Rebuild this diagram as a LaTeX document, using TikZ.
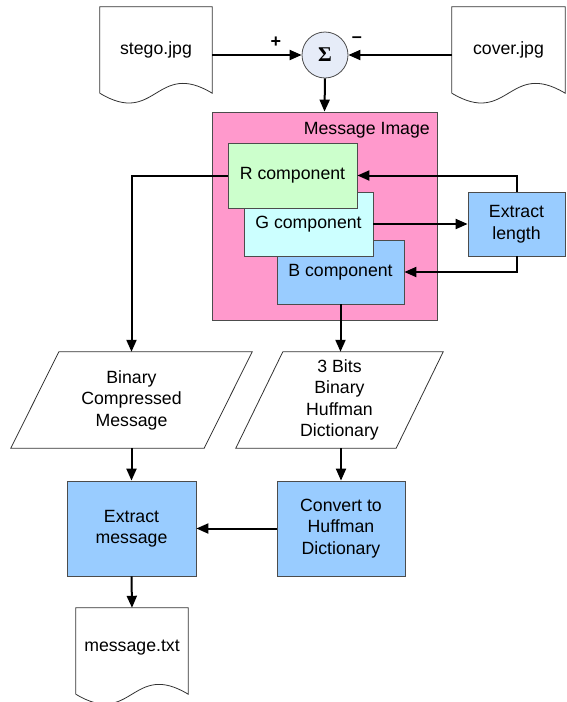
\documentclass[tikz,border=0pt]{standalone}
\usepackage{fontspec}
\setmainfont{Liberation Sans}
\newfontfamily\serifb{Liberation Serif}
\usetikzlibrary{arrows.meta,calc}
\definecolor{pinkbg}{HTML}{FF99CC}
\definecolor{rcol}{HTML}{CCFFCC}
\definecolor{gcol}{HTML}{CCFFFF}
\definecolor{bcol}{HTML}{99CCFF}
\definecolor{sigfill}{HTML}{E6ECF8}
\newcommand\docoutline[1]{\draw[docline] (#1.south west) -- (#1.north west) -- (#1.north east) -- (#1.south east) .. controls ($(#1.south)+(0,-34)$) and ($(#1.south)+(0,34)$) .. (#1.south west);}
\begin{document}
\begin{tikzpicture}[x=1pt,y=-1pt,
  font=\fontsize{17.7}{21.5}\selectfont,
  box/.style={draw=black!70, line width=0.8pt, inner sep=0pt, align=center},
  ghost/.style={inner sep=0pt, align=center},
  docline/.style={draw=black!80, line width=0.8pt, fill=white},
  pline/.style={draw=black!80, line width=0.8pt, fill=white},
  sign/.style={inner sep=0pt, font=\bfseries\fontsize{18}{18}\selectfont},
  arr/.style={line width=2pt, -{Triangle[length=12pt,width=10pt]}}]
\useasboundingbox (0,0) rectangle (567,702);

% documents and shapes (ghost nodes + outlines)
\node[ghost, minimum width=112pt, minimum height=86pt] (stego) at (156,50) {};
\docoutline{stego}
\node[ghost] (stegot) at (stego) {stego.jpg};
\node[ghost, minimum width=113pt, minimum height=86pt] (cover) at (508.5,50) {};
\docoutline{cover}
\node[ghost] (covert) at (cover) {cover.jpg};

\node[circle, draw=black!70, fill=sigfill, minimum size=46pt, inner sep=0pt, line width=0.8pt] (sig) at (325,55) {\serifb\bfseries\fontsize{21}{21}\selectfont Σ};
\node[sign] (plus) at (276,42) {+};
\node[sign] (minus) at (357,40) {–};

\node[box, fill=pinkbg, minimum width=225pt, minimum height=208pt] (mi) at (324.5,216) {};
\node[anchor=east, inner sep=0pt] (mit) at (430,130) {Message Image};
\node[box, fill=bcol, minimum width=127pt, minimum height=64pt] (B) at (340.5,272) {B component};
\node[box, fill=gcol, minimum width=129pt, minimum height=64pt] (G) at (308.5,224) {G component};
\node[box, fill=rcol, minimum width=129pt, minimum height=65pt] (R) at (292.5,175.5) {R component};
\node[box, fill=bcol, minimum width=97pt, minimum height=64pt] (el) at (516.5,224) {Extract\\length};

\node[ghost, minimum width=241pt, minimum height=96pt] (p1) at (131.5,400) {};
\draw[pline] ($(p1.north west)+(48,0)$) -- (p1.north east) -- ($(p1.south east)+(-48,0)$) -- (p1.south west) -- cycle;
\node[ghost] (p1t) at (p1) {Binary\\Compressed\\Message};
\node[ghost, minimum width=207pt, minimum height=96pt] (p2) at (339.5,400) {};
\draw[pline] ($(p2.north west)+(47,0)$) -- (p2.north east) -- ($(p2.south east)+(-47,0)$) -- (p2.south west) -- cycle;
\node[ghost] (p2t) at (p2) {3 Bits\\Binary\\Huffman\\Dictionary};

\node[box, fill=bcol, minimum width=129pt, minimum height=95pt] (em) at (131.5,528.5) {Extract\\message};
\node[box, fill=bcol, minimum width=128pt, minimum height=95pt] (conv) at (341,528.5) {Convert to\\Huffman\\Dictionary};

\node[ghost, minimum width=112pt, minimum height=86pt] (msg) at (132,651) {};
\docoutline{msg}
\node[ghost] (msgt) at (132,648) {message.txt};

% connectors
\draw[arr] (stego.east |- sig.west) -- (sig.west);
\draw[arr] (cover.west |- sig.east) -- (sig.east);
\draw[arr] (sig.south) -- (mi.north);
\draw[arr] (R.west) -| (p1.north);
\draw[arr] (el.north) |- (R.east);
\draw[arr] (G.east) -- (el.west);
\draw[arr] (el.south) |- (B.east);
\draw[arr] (B.south) -- (B.south |- p2.north);
\draw[arr] (p1.south) -- (em.north);
\draw[arr] (conv.north |- p2.south) -- (conv.north);
\draw[arr] (conv.west) -- (em.east);
\draw[arr] (em.south) -- (msg.north);
\end{tikzpicture}
\end{document}
